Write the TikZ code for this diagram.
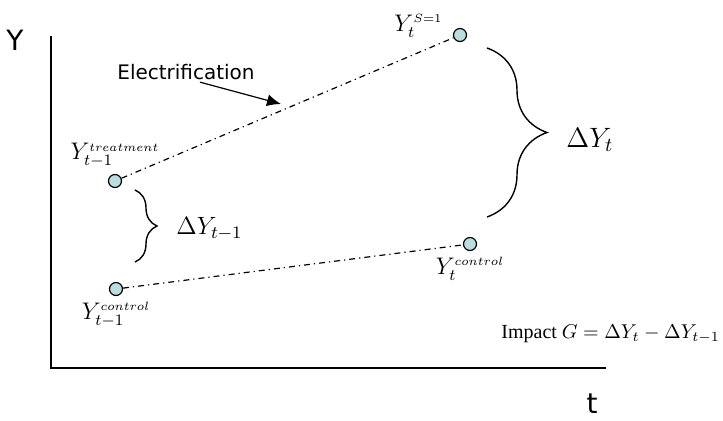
\RequirePackage{fix-cm}
\documentclass[tikz,border=0pt]{standalone}
\usepackage{fontspec}
\setmainfont{Liberation Serif}
\newfontfamily\axisfont{DejaVu Sans}
\usetikzlibrary{arrows.meta,positioning,decorations.pathreplacing}
\definecolor{dotfill}{RGB}{186,222,224}

\begin{document}
\begin{tikzpicture}[
  x=0.5pt, y=-0.5pt,
  obs/.style={circle, draw, fill=dotfill, inner sep=0pt, minimum size=6.5pt, semithick},
  trend/.style={dash pattern=on 3pt off 2pt on 0.6pt off 2pt, semithick},
  lbl/.style={inner sep=1pt, font=\fontsize{12}{14}\selectfont},
  axlbl/.style={inner sep=0pt, font=\axisfont\fontsize{14}{16}\selectfont},
  gap/.style={decorate, decoration={brace, amplitude=#1}, line width=0.7pt},
  arr/.style={-{Latex[length=7pt, width=6pt]}, semithick}
]
\useasboundingbox (0,0) rectangle (723,420);

% ── Axes ──────────────────────────────────────────────────────────────────
\coordinate (ytop) at (51,36);
\coordinate (origin) at (51,368);
\coordinate (xend) at (606,368);
\draw[line width=1pt] (ytop) -- (origin) -- (xend);
\node[axlbl] (ylab) at (15,40) {Y};
\node[axlbl] (tlab) at (592,404) {t};

% ── Observations ─────────────────────────────────────────────────────────
\node[obs] (tr0) at (115,181) {};
\node[obs] (ct0) at (116,289) {};
\node[obs] (s1)  at (460,35) {};
\node[obs] (ct1) at (470,244) {};

\node[lbl, above=2pt of tr0] (ltr0) {$Y_{t-1}^{\scriptscriptstyle treatment}$};
\node[lbl, below=2pt of ct0] (lct0) {$Y_{t-1}^{\scriptscriptstyle control}$};
\node[lbl, above left=-5pt and 5pt of s1] (ls1) {$Y_{t}^{\scriptscriptstyle S=1}$};
\node[lbl, below=2pt of ct1] (lct1) {$Y_{t}^{\scriptscriptstyle control}$};

\draw[trend] (tr0) -- (s1);
\draw[trend] (ct0) -- (ct1);

% ── Differences ──────────────────────────────────────────────────────────
\coordinate (b0top) at (135,190);
\coordinate (b0bot) at (135,262);
\draw[gap=11pt] (b0top) -- (b0bot);
\node[anchor=west, inner sep=0pt, font=\fontsize{12.5}{15}\selectfont] (dlag) at (176,229) {$\Delta Y_{t-1}$};

\coordinate (b1top) at (487,48);
\coordinate (b1bot) at (487,217);
\draw[gap=30pt] (b1top) -- (b1bot);
\node[anchor=west, inner sep=0pt, font=\fontsize{14}{16}\selectfont] (dnow) at (566,140) {$\Delta Y_{t}$};

% ── Annotation ───────────────────────────────────────────────────────────
\node[inner sep=1pt, font=\axisfont\fontsize{10}{12}\selectfont] (elec) at (186,72) {Electrification};
\coordinate (hit) at (281,104);
\draw[arr] ([xshift=7pt]elec.south) -- (hit);

\node[anchor=west, inner sep=0pt, font=\fontsize{10}{12}\selectfont] (impact) at (501,334)
  {Impact $G=\Delta Y_{t}-\Delta Y_{t-1}$};

\end{tikzpicture}
\end{document}
